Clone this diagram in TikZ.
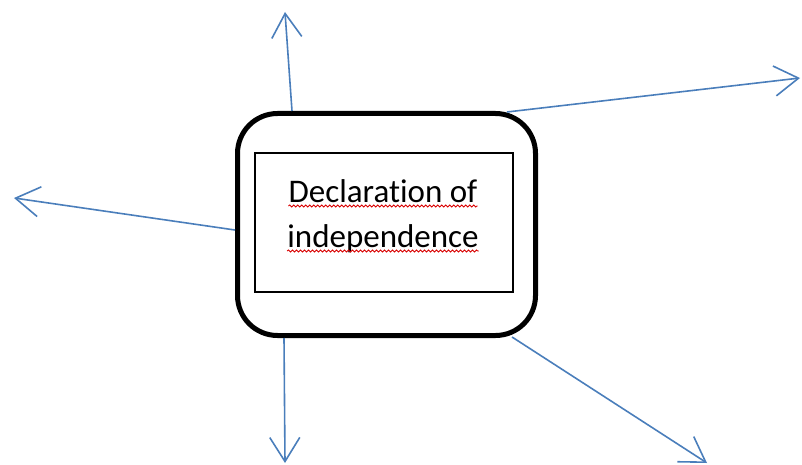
\documentclass[tikz,border=0pt]{standalone}
\usepackage{fontspec}
\setmainfont{Carlito}[Ligatures=NoCommon]
\usetikzlibrary{arrows.meta,decorations.pathmorphing}
\definecolor{spokeblue}{RGB}{74,126,187}
\tikzset{
  >={Straight Barb[length=24pt,width=30pt]},
  boxframe/.style={draw=black,line width=5pt,rounded corners=40pt,
    minimum width=298pt,minimum height=222pt,inner sep=0pt},
  innerframe/.style={draw=black,line width=1.2pt,minimum width=258pt,
    minimum height=139pt,inner sep=0pt},
  lbl/.style={font=\fontsize{33pt}{40pt}\selectfont,inner sep=0pt,anchor=base},
  spoke/.style={->,draw=spokeblue,line width=1.6pt},
  squig/.style={draw=red!85!black,line width=0.9pt,
    decorate,decoration={snake,amplitude=1pt,segment length=4pt}},
}
\begin{document}
\begin{tikzpicture}[x=1pt,y=-1pt]
  \useasboundingbox (0,0) rectangle (802,465);
  % the box in the middle
  \node[boxframe] (box) at (386.5,224.5) {};
  \node[innerframe] (frame) at (384,222.5) {};
  \node[lbl] (line1) at (383,202) {Declaration of};
  \node[lbl] (line2) at (383,247) {independence};
  \draw[squig] ([yshift=-4pt]line1.base west) -- ([yshift=-4pt]line1.base east);
  \draw[squig] ([yshift=-4pt]line2.base west) -- ([yshift=-4pt]line2.base east);
  % free ends of the spokes
  \coordinate (up) at (285,12);
  \coordinate (upright) at (800,78);
  \coordinate (left) at (14,198);
  \coordinate (down) at (285,463);
  \coordinate (downright) at (707,463);
  \draw[spoke] ([xshift=-94.5pt]box.north) -- (up);
  \draw[spoke] ([xshift=120.5pt,yshift=-1pt]box.north) -- (upright);
  \draw[spoke] ([yshift=-5.5pt]box.west) -- (left);
  \draw[spoke] ([xshift=-102.5pt]box.south) -- (down);
  \draw[spoke] ([xshift=125.5pt,yshift=1pt]box.south) -- (downright);
\end{tikzpicture}
\end{document}
